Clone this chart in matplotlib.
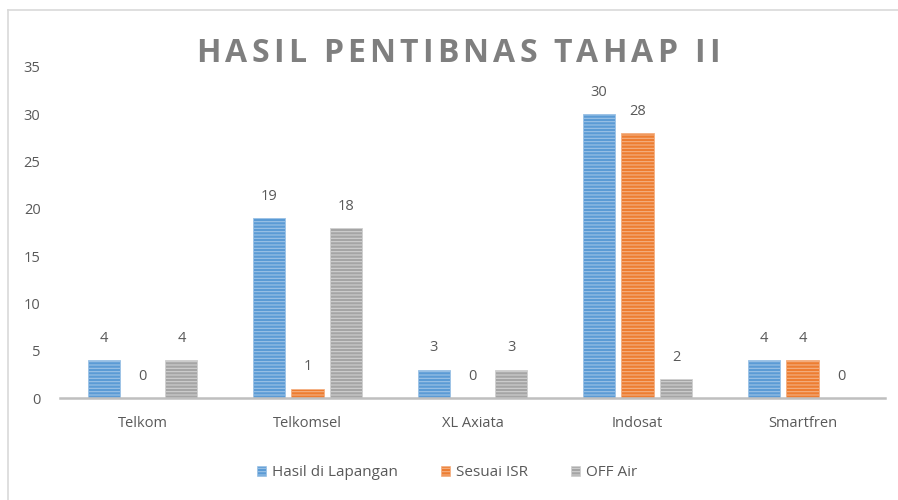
import matplotlib
matplotlib.use("Agg")
import matplotlib.pyplot as plt
import numpy as np
from matplotlib.lines import Line2D
from matplotlib.patches import Patch
from matplotlib.font_manager import FontProperties, findfont
from matplotlib.ft2font import FT2Font

categories = ["Telkom", "Telkomsel", "XL Axiata", "Indosat", "Smartfren"]
series_names = ["Hasil di Lapangan", "Sesuai ISR", "OFF Air"]
hasil = [4, 19, 3, 30, 4]
sesuai = [0, 1, 0, 28, 4]
offair = [4, 18, 3, 2, 0]
yticks = [0, 5, 10, 15, 20, 25, 30, 35]
title = "HASIL PENTIBNAS TAHAP II"

colors = ["#5B9BD5", "#ED7D31", "#A5A5A5"]
hatch_cols = ["#9DC3E6", "#F4B183", "#D0D0D0"]
txt = "#595959"

plt.rcParams['font.family'] = ['Open Sans', 'DejaVu Sans']
plt.rcParams['hatch.linewidth'] = 0.8

fig = plt.figure(figsize=(8.98, 5.0), dpi=100)
ax = fig.add_axes([60/898, 1-398/500, 825/898, 331/500])

x = np.arange(len(categories))
w = 0.194
off = 0.236
for i, (vals, c, hc) in enumerate(zip([hasil, sesuai, offair], colors, hatch_cols)):
    pos = x + (i - 1) * off
    ax.bar(pos, vals, width=w, color=c, edgecolor=hc, linewidth=0.6, hatch='-----')
    for p, v in zip(pos, vals):
        ax.text(p, v + 1.5, str(v), ha='center', va='bottom', fontsize=10.5, color=txt)

ax.set_xlim(-0.5, len(categories) - 0.5)
ax.set_ylim(0, 35)
ax.set_yticks(yticks)
ax.set_yticklabels([str(t) for t in yticks], fontsize=10.5, color=txt)
ax.set_xticks(x)
ax.set_xticklabels(categories, fontsize=10.5, color=txt)
ax.tick_params(axis='both', length=0)
ax.tick_params(axis='y', pad=14)
ax.tick_params(axis='x', pad=13)
for s in ['top', 'right', 'left']:
    ax.spines[s].set_visible(False)
ax.spines['bottom'].set_color('#BFBFBF')
ax.spines['bottom'].set_linewidth(1.8)

# letter-spaced title
tsize = 23
fp = FontProperties(family='Open Sans', weight='bold', size=tsize)
ft = FT2Font(findfont(fp))
ft.set_size(tsize, 100)
advs = [ft.load_char(ord(ch)).linearHoriAdvance / 65536.0 for ch in title]
target_w = 523.0
extra = (target_w - sum(advs)) / (len(title) - 1)
xpix = 458.0 - target_w / 2.0
for ch, a in zip(title, advs):
    if ch != ' ':
        fig.text(xpix / 898, 1 - 53 / 500, ch, ha='left', va='center',
                 fontproperties=fp, color='#7F7F7F')
    xpix += a + extra

handles = [Patch(facecolor=c, edgecolor=hc, hatch='-----', linewidth=0.5) for c, hc in zip(colors, hatch_cols)]
leg = fig.legend(handles, series_names, loc='center', bbox_to_anchor=(447/898, 1-473/500),
                 ncol=3, frameon=False, fontsize=11, handlelength=0.6, handleheight=0.6,
                 handletextpad=0.4, columnspacing=2.8)
for t in leg.get_texts():
    t.set_color(txt)

# outer frame lines (top and left)
fig.add_artist(Line2D([8/898, 1], [1-10/500, 1-10/500], color='#D9D9D9', lw=1.2, transform=fig.transFigure))
fig.add_artist(Line2D([8/898, 8/898], [0, 1-10/500], color='#D9D9D9', lw=1.2, transform=fig.transFigure))

fig.savefig("out.png", dpi=100)
